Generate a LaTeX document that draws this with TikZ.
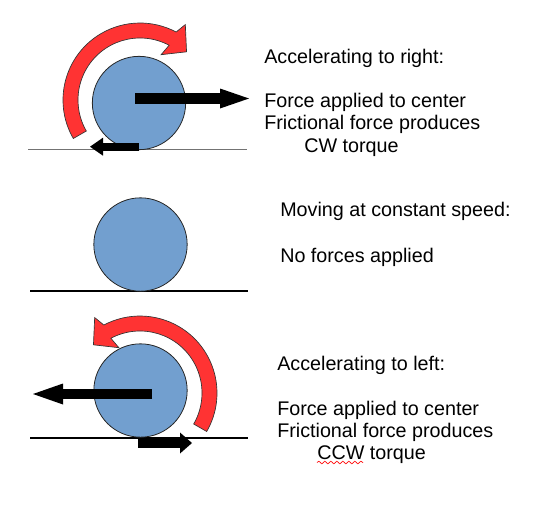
\documentclass[tikz,border=0pt]{standalone}
\usepackage{fontspec}
\setmainfont{Liberation Sans}
\usetikzlibrary{arrows.meta,decorations.pathmorphing}
\definecolor{wheelblue}{HTML}{729FCF}
\definecolor{torquered}{HTML}{FF3333}
\tikzset{
  wheel/.style={circle, draw=black!85, line width=0.6pt, fill=wheelblue, inner sep=0pt, minimum size=70pt},
  ground/.style={line width=0.9pt},
  txt/.style={anchor=base west, inner sep=0pt, font=\fontsize{14.8}{17}\selectfont},
  torque/.pic={
    \filldraw[fill=torquered, draw=black!80, line width=0.5pt]
      (150:77) arc[start angle=150, end angle=298, radius=77]
      -- (301:88) -- (314:67) -- (295:50) -- (298:62)
      arc[start angle=298, end angle=150, radius=62] -- cycle;
  }
}
\begin{document}
\begin{tikzpicture}[x=0.75pt, y=-0.75pt]
\useasboundingbox (0,0) rectangle (534,507);

% accelerating to right
\draw[ground, black!55] (28,149.5) -- (247,149.5);
\node[wheel] (wtop) at (139,103){};
\pic at (140,100) {torque};
\coordinate (ptop) at (135,98.5);
\coordinate (ftop) at (249,98.5);
\draw[line width=8.25pt, -{Triangle[length=21.75pt 0 0, width=15pt 0 0, line width=0pt]}] (ptop) -- (ftop);
\coordinate (qtop) at (139,146.7);
\coordinate (rtop) at (90,146.7);
\draw[line width=6pt, -{Triangle[length=9.75pt 0 0, width=13.5pt 0 0, line width=0pt]}] (qtop) -- (rtop);
\node[txt] (ttop) at (264,63) {Accelerating to right:};
\node[txt] (ttop1) at (264,107) {Force applied to center};
\node[txt] (ttop2) at (264,129) {Frictional force produces};
\node[txt] (ttop3) at (304,152) {CW torque};

% constant speed
\draw[ground] (30,291) -- (248,291);
\node[wheel] (wmid) at (140.5,244.5){};
\node[txt] (tmid) at (280,216) {Moving at constant speed:};
\node[txt] (tmid1) at (280,262) {No forces applied};

% accelerating to left
\draw[ground] (30,438) -- (248,438);
\node[wheel] (wbot) at (140.5,390.5){};
\pic[xscale=-1] at (140,393) {torque};
\coordinate (pbot) at (152,394);
\coordinate (fbot) at (33,394);
\draw[line width=7.9pt, -{Triangle[length=22.5pt 0 0, width=15.75pt 0 0, line width=0pt]}] (pbot) -- (fbot);
\coordinate (qbot) at (138,443);
\coordinate (rbot) at (192,443);
\draw[line width=7.5pt, -{Triangle[length=9pt 0 0, width=15.75pt 0 0, line width=0pt]}] (qbot) -- (rbot);
\node[txt] (tbot) at (277,370) {Accelerating to left:};
\node[txt] (tbot1) at (277,415) {Force applied to center};
\node[txt] (tbot2) at (277,437) {Frictional force produces};
\node[txt] (tbot3) at (317,459) {CCW torque};
\draw[red, line width=0.5pt, decorate, decoration={snake, amplitude=1pt, segment length=4.5pt}] (317,462.5) -- (363,462.5);

\end{tikzpicture}
\end{document}
